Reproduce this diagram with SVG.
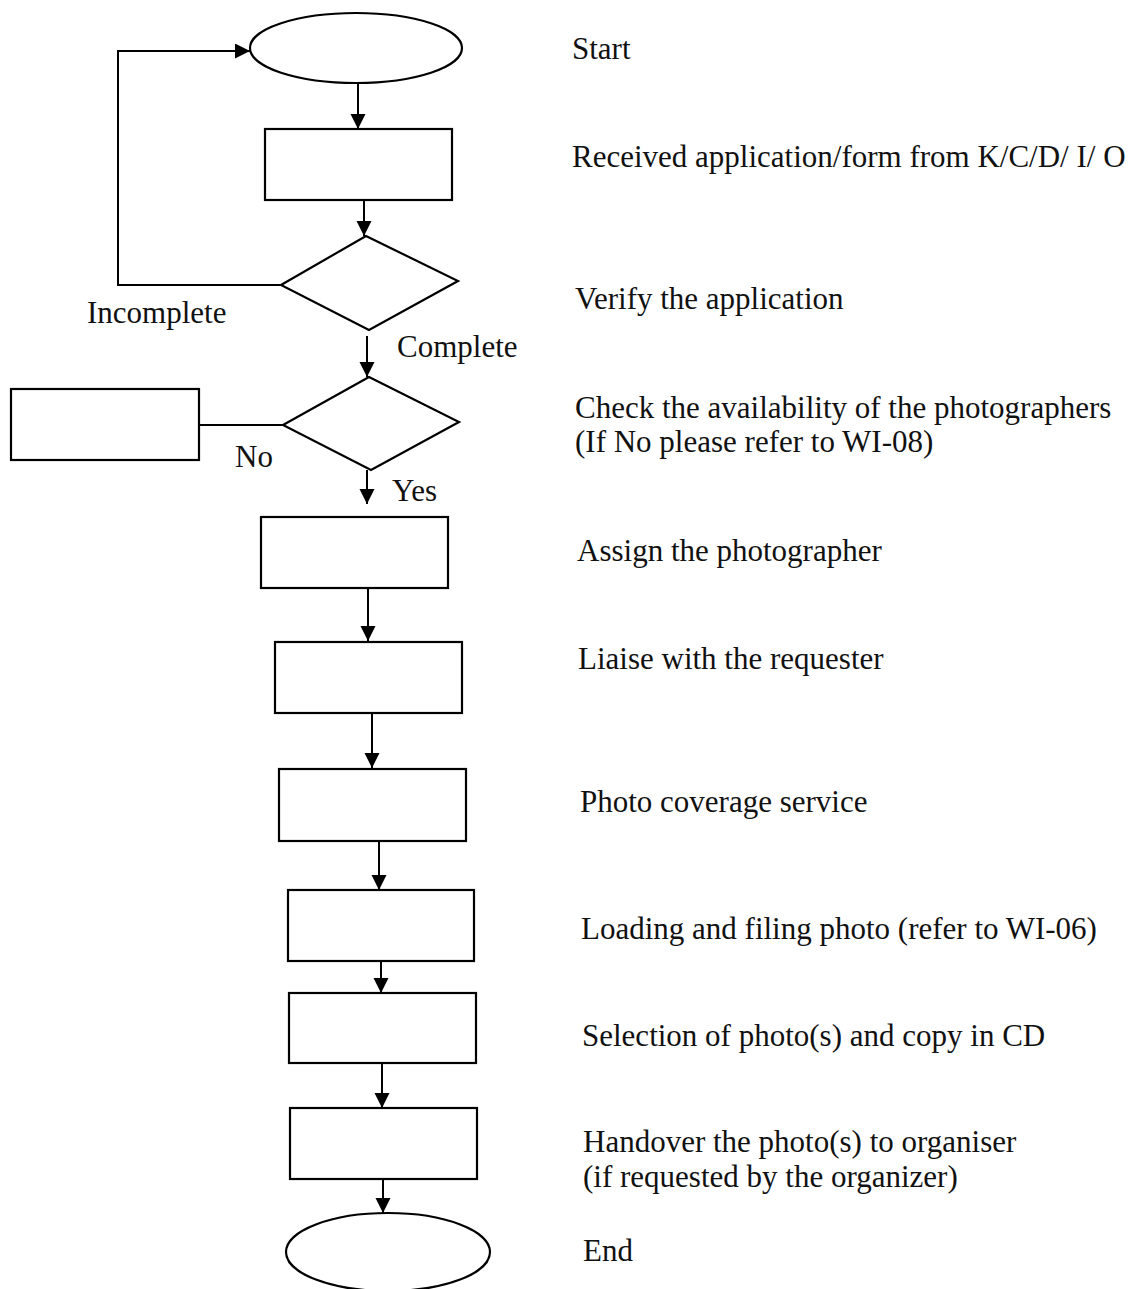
<svg xmlns="http://www.w3.org/2000/svg" width="1141" height="1289" viewBox="0 0 1141 1289">
<style>
.shape{fill:#fff;stroke:#000;stroke-width:2.2}
.conn{fill:none;stroke:#000;stroke-width:2}
text{font-family:"Liberation Serif","Times New Roman",serif;font-size:31px;fill:#111}
</style>
<defs>
<marker id="arr" markerUnits="userSpaceOnUse" markerWidth="16" markerHeight="16" refX="15" refY="7.5" orient="auto">
<path d="M0,0 L15,7.5 L0,15 z" fill="#000"/>
</marker>
</defs>
<rect width="1141" height="1289" fill="#fff"/>
<g id="connectors">
<line class="conn" x1="358" y1="83" x2="358" y2="129" marker-end="url(#arr)"/>
<line class="conn" x1="364" y1="200" x2="364" y2="236" marker-end="url(#arr)"/>
<polyline class="conn" points="281,285 118,285 118,51 250,51" marker-end="url(#arr)"/>
<line class="conn" x1="367" y1="336" x2="367" y2="377" marker-end="url(#arr)"/>
<line class="conn" x1="199" y1="425" x2="283" y2="425"/>
<line class="conn" x1="367" y1="470" x2="367" y2="504" marker-end="url(#arr)"/>
<line class="conn" x1="368" y1="588" x2="368" y2="641" marker-end="url(#arr)"/>
<line class="conn" x1="372" y1="713" x2="372" y2="768" marker-end="url(#arr)"/>
<line class="conn" x1="379" y1="841" x2="379" y2="890" marker-end="url(#arr)"/>
<line class="conn" x1="381" y1="961" x2="381" y2="993" marker-end="url(#arr)"/>
<line class="conn" x1="382" y1="1063" x2="382" y2="1108" marker-end="url(#arr)"/>
<line class="conn" x1="383" y1="1179" x2="383" y2="1213" marker-end="url(#arr)"/>
</g>
<g id="start"><ellipse class="shape" cx="356" cy="48" rx="106" ry="35"/><text x="572" y="59">Start</text></g>
<g id="received"><rect class="shape" x="265" y="129" width="187" height="71"/><text x="572" y="167">Received application/form from K/C/D/ I/ O</text></g>
<g id="verify"><polygon class="shape" points="366,236 458,281 369,330 281,285"/><text x="575" y="309">Verify the application</text></g>
<g id="check"><polygon class="shape" points="369,377 459,422 371,470 283,425"/><text x="575" y="418">Check the availability of the photographers</text><text x="575" y="452">(If No please refer to WI-08)</text></g>
<g id="wi08"><rect class="shape" x="11" y="389" width="188" height="71"/></g>
<g id="assign"><rect class="shape" x="261" y="517" width="187" height="71"/><text x="577" y="561">Assign the photographer</text></g>
<g id="liaise"><rect class="shape" x="275" y="642" width="187" height="71"/><text x="578" y="669">Liaise with the requester</text></g>
<g id="coverage"><rect class="shape" x="279" y="769" width="187" height="72"/><text x="580" y="812">Photo coverage service</text></g>
<g id="loading"><rect class="shape" x="288" y="890" width="186" height="71"/><text x="581" y="939">Loading and filing photo (refer to WI-06)</text></g>
<g id="selection"><rect class="shape" x="289" y="993" width="187" height="70"/><text x="582" y="1046">Selection of photo(s) and copy in CD</text></g>
<g id="handover"><rect class="shape" x="290" y="1108" width="187" height="71"/><text x="583" y="1152">Handover the photo(s) to organiser</text><text x="583" y="1187">(if requested by the organizer)</text></g>
<g id="end"><ellipse class="shape" cx="388" cy="1252" rx="102" ry="39"/><text x="583" y="1261">End</text></g>
<g id="labels">
<text x="87" y="323">Incomplete</text>
<text x="397" y="357">Complete</text>
<text x="235" y="467">No</text>
<text x="392" y="501">Yes</text>
</g>
</svg>
